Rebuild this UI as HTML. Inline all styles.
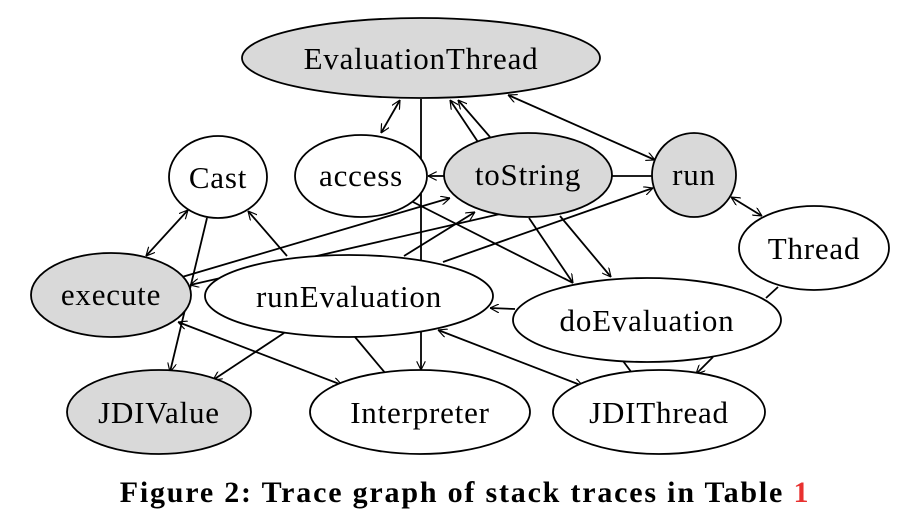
<!DOCTYPE html>
<html><head><meta charset="utf-8"><style>
html,body{margin:0;padding:0;background:#fff;}
svg{display:block;}
text{font-family:"Liberation Serif",serif;}
</style></head><body>
<svg width="902" height="516" viewBox="0 0 902 516" xmlns="http://www.w3.org/2000/svg">
<defs>
<marker id="a" viewBox="0 0 10 10" refX="10" refY="5" markerWidth="9" markerHeight="9" orient="auto-start-reverse" markerUnits="userSpaceOnUse">
<path d="M0,0 L10,5 L0,10" fill="none" stroke="#000" stroke-width="1.3"/>
</marker>
</defs>
<g stroke="#000" stroke-width="1.8" fill="none">
<line x1="381" y1="133" x2="400" y2="100" marker-start="url(#a)" marker-end="url(#a)"/>
<line x1="421" y1="99" x2="421" y2="370" marker-end="url(#a)"/>
<line x1="478" y1="142" x2="450" y2="100" marker-end="url(#a)"/>
<line x1="490" y1="137" x2="458" y2="100" marker-end="url(#a)"/>
<line x1="508" y1="95" x2="655" y2="160" marker-start="url(#a)" marker-end="url(#a)"/>
<line x1="444" y1="176" x2="428" y2="176" marker-end="url(#a)"/>
<line x1="612" y1="176" x2="652" y2="176"/>
<line x1="731" y1="197" x2="762" y2="216" marker-start="url(#a)" marker-end="url(#a)"/>
<line x1="529" y1="218" x2="573" y2="283" marker-end="url(#a)"/>
<line x1="560" y1="216" x2="611" y2="277" marker-end="url(#a)"/>
<line x1="413" y1="202" x2="573" y2="283"/>
<line x1="146" y1="256" x2="188" y2="210" marker-start="url(#a)" marker-end="url(#a)"/>
<line x1="207" y1="218" x2="170" y2="372" marker-end="url(#a)"/>
<line x1="182" y1="277" x2="450" y2="198" marker-end="url(#a)"/>
<line x1="500" y1="214" x2="190" y2="285" marker-end="url(#a)"/>
<line x1="404" y1="256" x2="475" y2="212" marker-end="url(#a)"/>
<line x1="443" y1="262" x2="653" y2="188" marker-end="url(#a)"/>
<line x1="287" y1="256" x2="248" y2="211" marker-end="url(#a)"/>
<line x1="284" y1="333" x2="213" y2="380" marker-end="url(#a)"/>
<line x1="355" y1="337" x2="386" y2="374"/>
<line x1="178" y1="322" x2="342" y2="385" marker-start="url(#a)" marker-end="url(#a)"/>
<line x1="515" y1="309" x2="490" y2="308" marker-end="url(#a)"/>
<line x1="438" y1="330" x2="583" y2="386" marker-start="url(#a)" marker-end="url(#a)"/>
<line x1="713" y1="357" x2="696" y2="374" marker-end="url(#a)"/>
<line x1="623" y1="361" x2="632" y2="373"/>
<line x1="778" y1="287" x2="766" y2="298"/>
</g>
<g stroke="#000" stroke-width="1.8">
<ellipse cx="421" cy="58" rx="179" ry="40" fill="#d9d9d9"/>
<ellipse cx="218" cy="177" rx="49" ry="41" fill="#fff"/>
<ellipse cx="361" cy="176" rx="66" ry="41" fill="#fff"/>
<ellipse cx="528" cy="175" rx="84" ry="42" fill="#d9d9d9"/>
<ellipse cx="694" cy="175" rx="42" ry="42" fill="#d9d9d9"/>
<ellipse cx="814" cy="248" rx="75" ry="42" fill="#fff"/>
<ellipse cx="111" cy="295" rx="80" ry="42" fill="#d9d9d9"/>
<ellipse cx="349" cy="296" rx="144" ry="41" fill="#fff"/>
<ellipse cx="647" cy="320" rx="134" ry="42" fill="#fff"/>
<ellipse cx="159" cy="412" rx="92" ry="42" fill="#d9d9d9"/>
<ellipse cx="420" cy="412" rx="110" ry="42" fill="#fff"/>
<ellipse cx="659" cy="412" rx="106" ry="42" fill="#fff"/>
</g>
<g font-size="31" letter-spacing="0.8" text-anchor="middle" fill="#000">
<text x="421" y="69">EvaluationThread</text>
<text x="218" y="188">Cast</text>
<text x="361" y="186">access</text>
<text x="528" y="185">toString</text>
<text x="694" y="185">run</text>
<text x="814" y="259">Thread</text>
<text x="111" y="305">execute</text>
<text x="349" y="307">runEvaluation</text>
<text x="647" y="331">doEvaluation</text>
<text x="159" y="423">JDIValue</text>
<text x="420" y="423">Interpreter</text>
<text x="659" y="423">JDIThread</text>
</g>
<text x="465" y="502" font-size="30" letter-spacing="1.8" font-weight="bold" text-anchor="middle">Figure 2: Trace graph of stack traces in Table <tspan fill="#e8312f">1</tspan></text>
</svg>
</body></html>
